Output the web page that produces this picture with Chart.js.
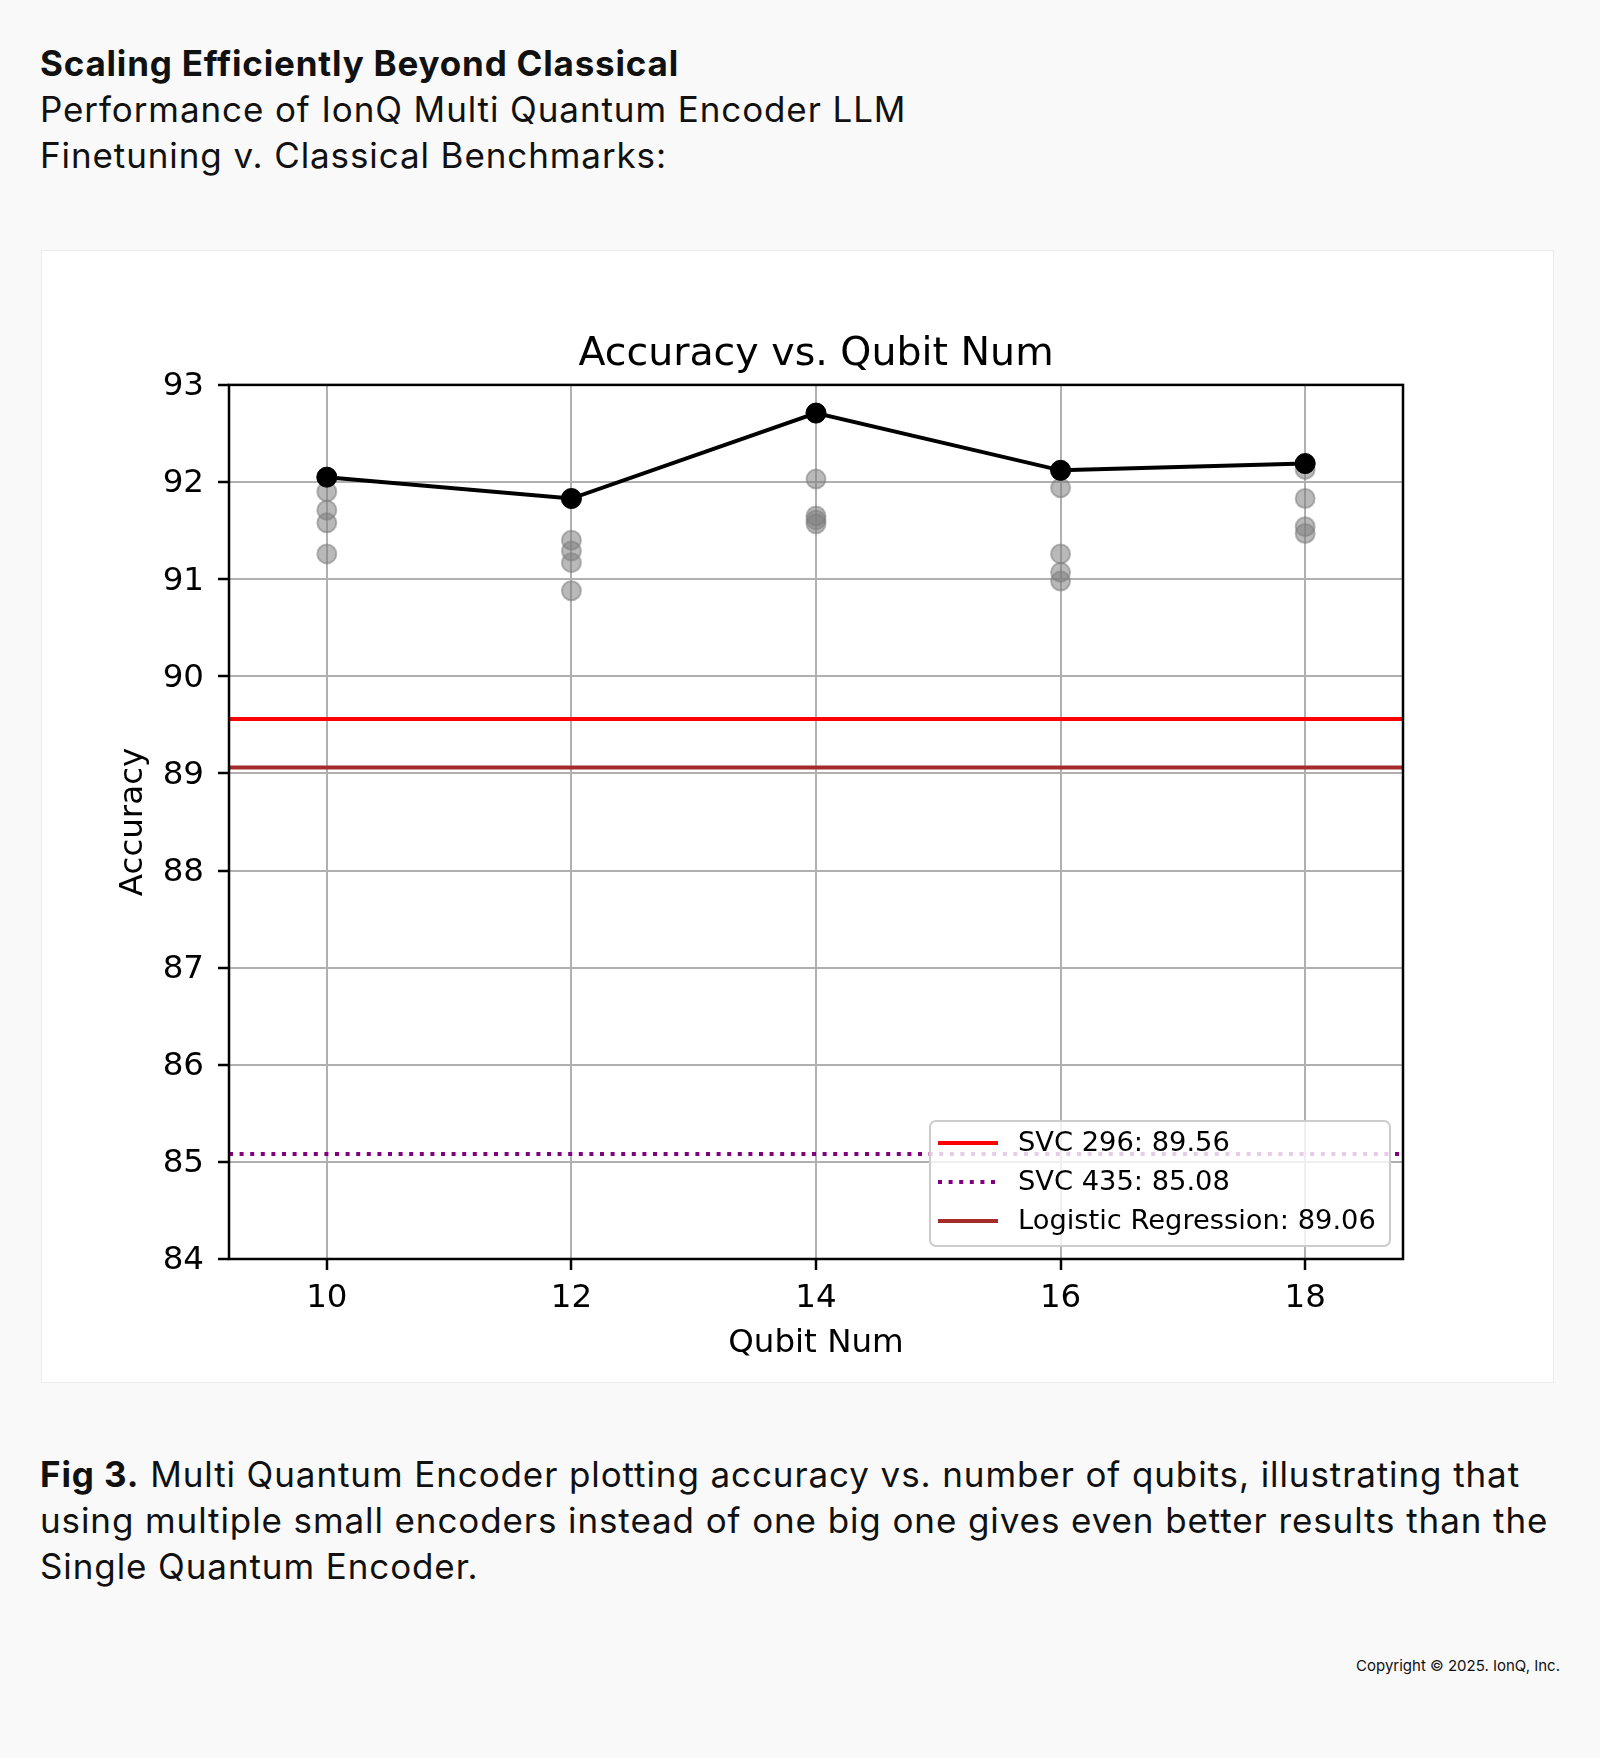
<!DOCTYPE html>
<html>
<head>
<meta charset="utf-8">
<title>Accuracy vs. Qubit Num</title>
<script src="https://cdn.jsdelivr.net/npm/chart.js@4.4.1/dist/chart.umd.min.js"></script>
<style>
    html, body { margin: 0; padding: 0; }
    body {
        width: 1600px;
        height: 1758px;
        position: relative;
        background: #f9f9f9;
        font-family: Inter, "Noto Sans", sans-serif;
        color: #111;
    }
    .header {
        position: absolute;
        left: 40px;
        top: 40px;
        font-size: 35px;
        line-height: 46px;
        letter-spacing: 0.9px;
        white-space: nowrap;
    }
    .header b { font-weight: 700; letter-spacing: 0.8px; }
    .panel {
        position: absolute;
        left: 41px;
        top: 250px;
        width: 1511px;
        height: 1131px;
        background: #fff;
        border: 1px solid #ececec;
    }
    .caption {
        position: absolute;
        left: 40px;
        top: 1451px;
        font-size: 35px;
        line-height: 46px;
        letter-spacing: 0.9px;
        white-space: nowrap;
    }
    .copyright {
        position: absolute;
        right: 40px;
        top: 1656px;
        font-size: 15px;
        line-height: 20px;
    }
</style>
</head>
<body>
<div class="header">
    <b>Scaling Efficiently Beyond Classical</b><br>
    Performance of IonQ Multi Quantum Encoder LLM<br>
    Finetuning v. Classical Benchmarks:
</div>

<div class="panel">
    <canvas id="accChart" width="1511" height="1131"></canvas>
</div>

<div class="caption">
    <b>Fig 3.</b> Multi Quantum Encoder plotting accuracy vs. number of qubits, illustrating that<br>
    using multiple small encoders instead of one big one gives even better results than the<br>
    Single Quantum Encoder.
</div>

<div class="copyright">Copyright © 2025. IonQ, Inc.</div>

<script>
// values
const qubitNums = [10, 12, 14, 16, 18];
const bestAcc = [92.05, 91.83, 92.71, 92.12, 92.19];

// individual runs for each qubit count (same order as qubitNums)
const runs10 = [92.05, 91.90, 91.71, 91.58, 91.26];
const runs12 = [91.83, 91.40, 91.29, 91.17, 90.88];
const runs14 = [92.71, 92.03, 91.65, 91.61, 91.57];
const runs16 = [92.12, 91.94, 91.26, 91.07, 90.98];
const runs18 = [92.19, 92.13, 91.83, 91.54, 91.47];

// classical benchmarks
const baselineNames = ['SVC 296', 'SVC 435', 'Logistic Regression'];
const baselineValues = [89.56, 85.08, 89.06];

// axis ranges / ticks
const xLimits = [9.2, 18.8];
const xTicks = [10, 12, 14, 16, 18];
const yLimits = [84, 93];
const yTicks = [84, 85, 86, 87, 88, 89, 90, 91, 92, 93];

const FONT = "'DejaVu Sans', sans-serif";

function buildRunPoints() {
    const allRuns = [runs10, runs12, runs14, runs16, runs18];
    const pts = [];
    allRuns.forEach((r, i) => {
        r.forEach(v => pts.push({ x: qubitNums[i], y: v }));
    });
    return pts;
}

function baselineDataset(idx, color, dash) {
    const v = baselineValues[idx];
    return {
        label: `${baselineNames[idx]}: ${v.toFixed(2)}`,
        data: [{ x: xLimits[0], y: v }, { x: xLimits[1], y: v }],
        showLine: true,
        borderColor: color,
        backgroundColor: color,
        borderWidth: 4,
        borderDash: dash,
        pointRadius: 0,
        inLegend: true,
        order: 2
    };
}

// matplotlib-like frame around the plot
const framePlugin = {
    id: 'frame',
    afterDatasetsDraw(chart) {
        const { ctx, chartArea: a } = chart;
        ctx.save();
        ctx.strokeStyle = '#000';
        ctx.lineWidth = 2.5;
        ctx.strokeRect(a.left, a.top, a.right - a.left, a.bottom - a.top);
        ctx.restore();
    }
};

// legend box in the lower right corner of the plot
const innerLegend = {
    id: 'innerLegend',
    afterDraw(chart) {
        const { ctx, chartArea: a } = chart;
        const items = chart.data.datasets.filter(d => d.inLegend);
        const boxW = 460, boxH = 125, rowH = 39;
        const x0 = a.right - 13 - boxW;
        const y0 = a.bottom - 13 - boxH;

        ctx.save();
        ctx.beginPath();
        ctx.roundRect(x0, y0, boxW, boxH, 6);
        ctx.fillStyle = 'rgba(255,255,255,0.8)';
        ctx.fill();
        ctx.strokeStyle = '#cccccc';
        ctx.lineWidth = 2;
        ctx.stroke();

        ctx.font = `27.3px ${FONT}`;
        ctx.textBaseline = 'middle';
        ctx.fillStyle = '#000';
        items.forEach((d, i) => {
            const cy = y0 + 22 + i * rowH;
            ctx.beginPath();
            ctx.strokeStyle = d.borderColor;
            ctx.lineWidth = d.borderWidth;
            ctx.setLineDash(d.borderDash || []);
            ctx.moveTo(x0 + 8, cy);
            ctx.lineTo(x0 + 68, cy);
            ctx.stroke();
            ctx.setLineDash([]);
            ctx.fillText(d.label, x0 + 88, cy + 1);
        });
        ctx.restore();
    }
};

const ctx = document.getElementById('accChart').getContext('2d');

new Chart(ctx, {
    type: 'scatter',
    data: {
        datasets: [
            {
                label: 'Best run',
                data: qubitNums.map((q, i) => ({ x: q, y: bestAcc[i] })),
                showLine: true,
                borderColor: '#000',
                backgroundColor: '#000',
                borderWidth: 4,
                pointRadius: 10,
                pointBorderWidth: 1,
                pointBorderColor: '#000',
                order: 0
            },
            {
                label: 'Runs',
                data: buildRunPoints(),
                backgroundColor: 'rgba(128,128,128,0.55)',
                borderColor: 'rgba(128,128,128,0.55)',
                pointRadius: 9.5,
                pointBorderWidth: 2,
                order: 1
            },
            baselineDataset(0, '#ff0000', []),
            baselineDataset(1, '#800080', [4, 6.6]),
            baselineDataset(2, '#a52a2a', [])
        ]
    },
    options: {
        responsive: false,
        animation: false,
        layout: { padding: { left: 0, top: 0, right: 150, bottom: 0 } },
        plugins: {
            legend: { display: false },
            tooltip: { enabled: false },
            title: {
                display: true,
                text: 'Accuracy vs. Qubit Num',
                fullSize: false,
                color: '#000',
                font: { family: FONT, size: 39.5, weight: 'normal', lineHeight: 1.2 },
                padding: { top: 80, bottom: 6.5 }
            }
        },
        scales: {
            x: {
                type: 'linear',
                min: xLimits[0],
                max: xLimits[1],
                afterBuildTicks: s => { s.ticks = xTicks.map(v => ({ value: v })); },
                afterFit: s => { s.height = 123; },
                grid: { color: '#b0b0b0', lineWidth: 2, tickColor: '#000', tickWidth: 2.5, tickLength: 11 },
                border: { display: false },
                ticks: { color: '#000', padding: 9.5, font: { family: FONT, size: 32.5 } },
                title: {
                    display: true,
                    text: 'Qubit Num',
                    color: '#000',
                    font: { family: FONT, size: 32.5, lineHeight: 1.2 },
                    padding: { top: 0, bottom: 18.5 }
                }
            },
            y: {
                min: yLimits[0],
                max: yLimits[1],
                afterBuildTicks: s => { s.ticks = yTicks.map(v => ({ value: v })); },
                afterFit: s => { s.width = 187; },
                grid: { color: '#b0b0b0', lineWidth: 2, tickColor: '#000', tickWidth: 2.5, tickLength: 11 },
                border: { display: false },
                ticks: { color: '#000', padding: 14, labelOffset: 2, font: { family: FONT, size: 32.5 } },
                title: {
                    display: true,
                    text: 'Accuracy',
                    color: '#000',
                    font: { family: FONT, size: 32.5, lineHeight: 1.2 },
                    padding: { top: 72, bottom: 0 }
                }
            }
        }
    },
    plugins: [framePlugin, innerLegend]
});
</script>
</body>
</html>
